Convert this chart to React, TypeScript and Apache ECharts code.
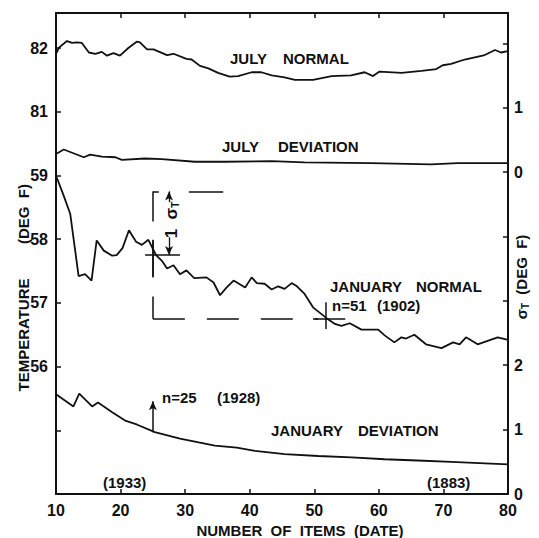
import { useEffect, useRef } from 'react';
import * as echarts from 'echarts';

// ---------- data ----------
const xMin = 10;
const xMax = 80;
const xInterval = 10;

// July normal temperature (deg F)
const julyNormalN = [10, 10.5, 11.7, 12.5, 13.2, 14, 15.1, 16.1, 17.1, 17.9, 18.9, 19.9, 21.2, 22.5, 23, 24.1, 25.1, 27.2, 28.2, 30.2, 31, 32.3, 33.6, 35.1, 36.9, 38.2, 40.3, 41.8, 43.4, 45.4, 47, 49.8, 52.7, 55.7, 57.8, 59.1, 60.1, 63.5, 66.6, 68.9, 69.9, 71.2, 73.3, 76.4, 78, 78.9, 80];
const julyNormalT = [81.91, 82.01, 82.11, 82.08, 82.09, 82.08, 81.93, 81.91, 81.94, 81.88, 81.92, 81.88, 82.0, 82.1, 82.09, 81.98, 81.98, 81.89, 81.91, 81.83, 81.82, 81.72, 81.68, 81.61, 81.55, 81.56, 81.62, 81.62, 81.57, 81.54, 81.5, 81.5, 81.56, 81.57, 81.62, 81.56, 81.63, 81.61, 81.64, 81.67, 81.73, 81.75, 81.82, 81.89, 81.97, 81.93, 81.95];

// July deviation sigma (deg F)
const julyDevN = [10, 11.2, 12.5, 14.3, 15.3, 17.1, 19.2, 20.2, 23.8, 26.4, 31.5, 36.2, 43.4, 48.5, 58.8, 68.1, 72.2, 80];
const julyDevS = [0.28, 0.35, 0.3, 0.23, 0.27, 0.24, 0.23, 0.19, 0.21, 0.2, 0.16, 0.16, 0.17, 0.15, 0.14, 0.12, 0.14, 0.14];

// January normal temperature (deg F)
const janNormalN = [10, 11.2, 12.2, 13.5, 14.5, 15.5, 16.3, 17.4, 18.7, 19.4, 20.3, 21.3, 22.4, 23.3, 24.3, 25.5, 26.4, 27.2, 28.2, 29.2, 30.2, 31.4, 33.3, 34.4, 35.4, 36.4, 37.5, 39.3, 40.3, 41.1, 42.3, 43.4, 44.4, 45.4, 46.5, 47.2, 48.5, 49.8, 51.9, 53.2, 54.2, 55.5, 57.3, 58.8, 59.9, 60.9, 62.4, 63.5, 64.2, 65.5, 67.3, 69.7, 71.5, 72.5, 73.5, 75.3, 78.4, 80];
const janNormalT = [59.0, 58.68, 58.4, 57.42, 57.45, 57.35, 57.98, 57.82, 57.74, 57.75, 57.86, 58.14, 57.96, 57.91, 57.99, 57.75, 57.66, 57.54, 57.59, 57.45, 57.51, 57.39, 57.4, 57.32, 57.12, 57.24, 57.35, 57.24, 57.4, 57.31, 57.3, 57.21, 57.26, 57.22, 57.31, 57.27, 57.14, 56.93, 56.76, 56.67, 56.64, 56.68, 56.58, 56.58, 56.58, 56.49, 56.38, 56.46, 56.44, 56.5, 56.35, 56.29, 56.38, 56.35, 56.46, 56.35, 56.46, 56.42];

// January deviation sigma (deg F)
const janDevN = [10, 12.7, 13.6, 15.6, 16.5, 18.7, 20.7, 22.5, 25.3, 29.2, 32.1, 34.6, 38, 40.8, 45.4, 50.6, 55.8, 60.9, 66, 71.2, 80];
const janDevS = [1.55, 1.36, 1.56, 1.36, 1.42, 1.27, 1.14, 1.08, 0.96, 0.86, 0.8, 0.75, 0.72, 0.67, 0.62, 0.59, 0.57, 0.54, 0.52, 0.5, 0.46];

// broken scales
const JULY_TEMP_OFFSET = 21; // July temperatures are drawn 21 deg lower on the left scale
const JULY_SIGMA_BASE = 5; // July sigma zero sits at 5 on the right scale
const leftMin = 54;
const leftMax = 61.55;
const leftTickLabels = ['', '', '56', '57', '58', '59', '81', '82']; // for 54..61
const rightMin = 0;
const rightMax = 7.47;
const rightTickLabels = ['0', '1', '2', '', '', '0', '1', '']; // for 0..7

// sigma construction on January normal
const sigmaN = 25;
const sigmaMean = 57.75;
const sigmaOne = 1.0;
const arrowN = 27.5;
const crossN = 51.7;
const janDevArrowN = 25;
const janDevArrowFrom = 0.96;
const janDevArrowTo = 1.44;

const INK = '#111';
const FONT = '"Liberation Sans", Arial, sans-serif';

const pairs = (xs: number[], ys: number[], f: (v: number) => number = (v) => v) =>
  xs.map((x, i) => [x, f(ys[i])]);

const lineSeries = (name: string, data: number[][], yAxisIndex: number) => ({
  name,
  type: 'line',
  xAxisIndex: 0,
  yAxisIndex,
  data,
  showSymbol: false,
  symbol: 'none',
  silent: true,
  lineStyle: { color: INK, width: 1.8 },
  z: 3,
});

const seg = (a: number[], b: number[], lineStyle: any = {}, endSymbol?: string) => [
  { coord: a, lineStyle: { color: INK, width: 1.5, type: 'solid', ...lineStyle } },
  endSymbol ? { coord: b, symbol: endSymbol, symbolSize: [6, 9] } : { coord: b },
];

const words = [
  { t: 'JULY', x: 230, y: 58 },
  { t: 'NORMAL', x: 283, y: 58 },
  { t: 'JULY', x: 222, y: 146 },
  { t: 'DEVIATION', x: 278, y: 146 },
  { t: 'JANUARY', x: 330, y: 286 },
  { t: 'NORMAL', x: 416, y: 286 },
  { t: 'n=51', x: 332, y: 305 },
  { t: '(1902)', x: 377, y: 305 },
  { t: 'n=25', x: 162, y: 397 },
  { t: '(1928)', x: 217, y: 397 },
  { t: 'JANUARY', x: 271, y: 430 },
  { t: 'DEVIATION', x: 358, y: 430 },
  { t: '(1933)', x: 103, y: 482 },
  { t: '(1883)', x: 427, y: 482 },
];

const textEl = (t: string, x: number, y: number, extra: any = {}, styleExtra: any = {}) => ({
  type: 'text',
  x,
  y,
  silent: true,
  ...extra,
  style: {
    text: t,
    fill: INK,
    fontFamily: FONT,
    fontSize: 15,
    fontWeight: 'bold',
    align: 'left',
    verticalAlign: 'middle',
    textAlign: 'left',
    textVerticalAlign: 'middle',
    ...styleExtra,
  },
});

const axisCommon = {
  axisLine: { show: true, lineStyle: { color: INK, width: 2 } },
  axisTick: { show: true, inside: true, length: 5, lineStyle: { color: INK, width: 1.5 } },
  splitLine: { show: false },
};

const labelStyle = { color: INK, fontSize: 16, fontWeight: 'bold', fontFamily: FONT };

const option: any = {
  animation: false,
  backgroundColor: '#fff',
  grid: { left: 56, right: 31, top: 13, bottom: 44, containLabel: false, outerBoundsMode: 'none' },
  xAxis: [
    {
      type: 'value', min: xMin, max: xMax, interval: xInterval, position: 'bottom',
      ...axisCommon,
      axisLabel: { ...labelStyle, margin: 8 },
    },
    {
      type: 'value', min: xMin, max: xMax, interval: xInterval, position: 'top',
      ...axisCommon,
      axisLabel: { show: false },
    },
  ],
  yAxis: [
    {
      type: 'value', min: leftMin, max: leftMax, interval: 1, position: 'left',
      ...axisCommon,
      axisLabel: {
        ...labelStyle, margin: 8, showMaxLabel: false,
        formatter: (v: number) => {
          const i = Math.round(v - leftMin);
          return Math.abs(v - leftMin - i) < 1e-6 && leftTickLabels[i] !== undefined ? leftTickLabels[i] : '';
        },
      },
    },
    {
      type: 'value', min: rightMin, max: rightMax, interval: 1, position: 'right',
      ...axisCommon,
      axisLabel: {
        ...labelStyle, margin: 6, showMaxLabel: false,
        formatter: (v: number) => {
          const i = Math.round(v - rightMin);
          return Math.abs(v - rightMin - i) < 1e-6 && rightTickLabels[i] !== undefined ? rightTickLabels[i] : '';
        },
      },
    },
  ],
  series: [
    lineSeries('July normal', pairs(julyNormalN, julyNormalT, (t) => t - JULY_TEMP_OFFSET), 0),
    lineSeries('July deviation', pairs(julyDevN, julyDevS, (s) => s + JULY_SIGMA_BASE), 1),
    lineSeries('January normal', pairs(janNormalN, janNormalT), 0),
    lineSeries('January deviation', pairs(janDevN, janDevS), 1),
    {
      name: 'sigma construction',
      type: 'line',
      xAxisIndex: 0,
      yAxisIndex: 0,
      data: [],
      silent: true,
      markLine: {
        silent: true,
        animation: false,
        symbol: ['none', 'none'],
        label: { show: false },
        emphasis: { disabled: true },
        data: [
          // vertical dashed at n=25 from mean+sigma to mean-sigma
          seg([sigmaN, sigmaMean + sigmaOne], [sigmaN, sigmaMean - sigmaOne], { type: [30, 19, 37, 19, 30] }),
          // top dashed
          seg([sigmaN, sigmaMean + sigmaOne], [35.9, sigmaMean + sigmaOne], { type: [6, 30, 36, 200] }),
          // bottom dashed
          seg([sigmaN, sigmaMean - sigmaOne], [50.6, sigmaMean - sigmaOne], { type: [32, 22] }),
          // cross at n=25
          seg([23.8, sigmaMean], [29.2, sigmaMean]),
          seg([sigmaN, 57.99], [sigmaN, 57.41]),
          // cross at n=51
          seg([49.8, sigmaMean - sigmaOne], [54.8, sigmaMean - sigmaOne]),
          seg([crossN, 57.01], [crossN, 56.59]),
          // dimension arrows
          seg([arrowN, 58.58], [arrowN, sigmaMean + sigmaOne], { width: 1.3 }, 'arrow'),
          seg([arrowN, 58.03], [arrowN, sigmaMean], { width: 1.3 }, 'arrow'),
        ],
      },
    },
    {
      name: 'jan dev arrow',
      type: 'line',
      xAxisIndex: 0,
      yAxisIndex: 1,
      data: [],
      silent: true,
      markLine: {
        silent: true,
        animation: false,
        symbol: ['none', 'none'],
        label: { show: false },
        emphasis: { disabled: true },
        data: [seg([janDevArrowN, janDevArrowFrom], [janDevArrowN, janDevArrowTo], { width: 1.5 }, 'arrow')],
      },
    },
  ],
  graphic: {
    elements: [
      ...words.map((w) => textEl(w.t, w.x, w.y)),
      textEl('1  σ{s|T}', 171, 220, { rotation: Math.PI / 2 }, {
        align: 'center', textAlign: 'center', fontSize: 17,
        rich: { s: { fontSize: 10, fontWeight: 'bold', fontFamily: FONT, fill: INK, padding: [8, 0, 0, 0] } },
      }),
      textEl('TEMPERATURE', 23, 335, { rotation: Math.PI / 2 }, { align: 'center', textAlign: 'center' }),
      textEl('(DEG  F)', 23, 214, { rotation: Math.PI / 2 }, { align: 'center', textAlign: 'center' }),
      textEl('σ{s|T}  (DEG  F)', 521, 277, { rotation: Math.PI / 2 }, {
        align: 'center', textAlign: 'center',
        rich: { s: { fontSize: 10, fontWeight: 'bold', fontFamily: FONT, fill: INK, padding: [8, 0, 0, 0] } },
      }),
      textEl('NUMBER  OF  ITEMS  (DATE)', 300, 530, {}, { align: 'center', textAlign: 'center' }),
    ],
  },
};

export default function App() {
  const ref = useRef<HTMLDivElement>(null);
  useEffect(() => {
    const chart = echarts.init(ref.current!, null, { renderer: 'svg' });
    chart.setOption(option);
    return () => chart.dispose();
  }, []);
  return (
    <div
      ref={ref}
      style={{ position: 'fixed', left: 0, top: 0, width: 539, height: 538, background: '#fff' }}
    />
  );
}
